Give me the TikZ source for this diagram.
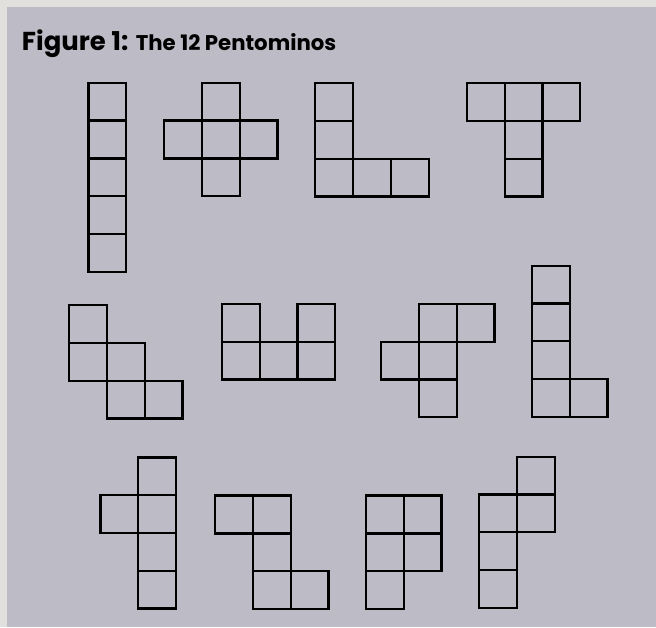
\documentclass[tikz,border=0pt]{standalone}
\usepackage{fontspec}
\newfontfamily\headfont{Poppins}
\definecolor{paper}{RGB}{226,224,220}
\definecolor{panel}{RGB}{189,187,197}

\begin{document}
\begin{tikzpicture}[x=1cm, y=-1cm, cell/.style={line width=1.7pt, line join=miter}]
  % background
  \useasboundingbox (0,0) rectangle (17.354,16.587);
  \fill[paper] (0,0) rectangle (17.354,16.587);
  \fill[panel] (0.185,0.185) rectangle (17.354,16.587);
  \node[anchor=base west, inner sep=0pt, font=\headfont\bfseries] (title) at (0.574,1.323)
    {\fontsize{19.5}{20}\selectfont Figure 1: \fontsize{16}{17}\selectfont The 12 Pentominos};
  % I
  \begin{scope}[shift={(2.34,2.19)}]
  \foreach \x/\y in {0/0, 0/1, 0/2, 0/3, 0/4}
    {\draw[cell] (\x,\y) rectangle ++(1,1);}
  \end{scope}
  % X
  \begin{scope}[shift={(4.34,2.19)}]
  \foreach \x/\y in {1/0, 0/1, 1/1, 2/1, 1/2}
    {\draw[cell] (\x,\y) rectangle ++(1,1);}
  \end{scope}
  % V
  \begin{scope}[shift={(8.34,2.20)}]
  \foreach \x/\y in {0/0, 0/1, 0/2, 1/2, 2/2}
    {\draw[cell] (\x,\y) rectangle ++(1,1);}
  \end{scope}
  % T
  \begin{scope}[shift={(12.35,2.20)}]
  \foreach \x/\y in {0/0, 1/0, 2/0, 1/1, 1/2}
    {\draw[cell] (\x,\y) rectangle ++(1,1);}
  \end{scope}
  % W
  \begin{scope}[shift={(1.83,8.07)}]
  \foreach \x/\y in {0/0, 0/1, 1/1, 1/2, 2/2}
    {\draw[cell] (\x,\y) rectangle ++(1,1);}
  \end{scope}
  % U
  \begin{scope}[shift={(5.87,8.04)}]
  \foreach \x/\y in {0/0, 2/0, 0/1, 1/1, 2/1}
    {\draw[cell] (\x,\y) rectangle ++(1,1);}
  \end{scope}
  % F
  \begin{scope}[shift={(10.08,8.04)}]
  \foreach \x/\y in {1/0, 2/0, 0/1, 1/1, 1/2}
    {\draw[cell] (\x,\y) rectangle ++(1,1);}
  \end{scope}
  % L
  \begin{scope}[shift={(14.07,7.03)}]
  \foreach \x/\y in {0/0, 0/1, 0/2, 0/3, 1/3}
    {\draw[cell] (\x,\y) rectangle ++(1,1);}
  \end{scope}
  % Y
  \begin{scope}[shift={(2.66,12.10)}]
  \foreach \x/\y in {1/0, 0/1, 1/1, 1/2, 1/3}
    {\draw[cell] (\x,\y) rectangle ++(1,1);}
  \end{scope}
  % Z
  \begin{scope}[shift={(5.69,13.11)}]
  \foreach \x/\y in {0/0, 1/0, 1/1, 1/2, 2/2}
    {\draw[cell] (\x,\y) rectangle ++(1,1);}
  \end{scope}
  % P
  \begin{scope}[shift={(9.68,13.11)}]
  \foreach \x/\y in {0/0, 1/0, 0/1, 1/1, 0/2}
    {\draw[cell] (\x,\y) rectangle ++(1,1);}
  \end{scope}
  % N
  \begin{scope}[shift={(12.68,12.08)}]
  \foreach \x/\y in {1/0, 0/1, 1/1, 0/2, 0/3}
    {\draw[cell] (\x,\y) rectangle ++(1,1);}
  \end{scope}
\end{tikzpicture}
\end{document}
